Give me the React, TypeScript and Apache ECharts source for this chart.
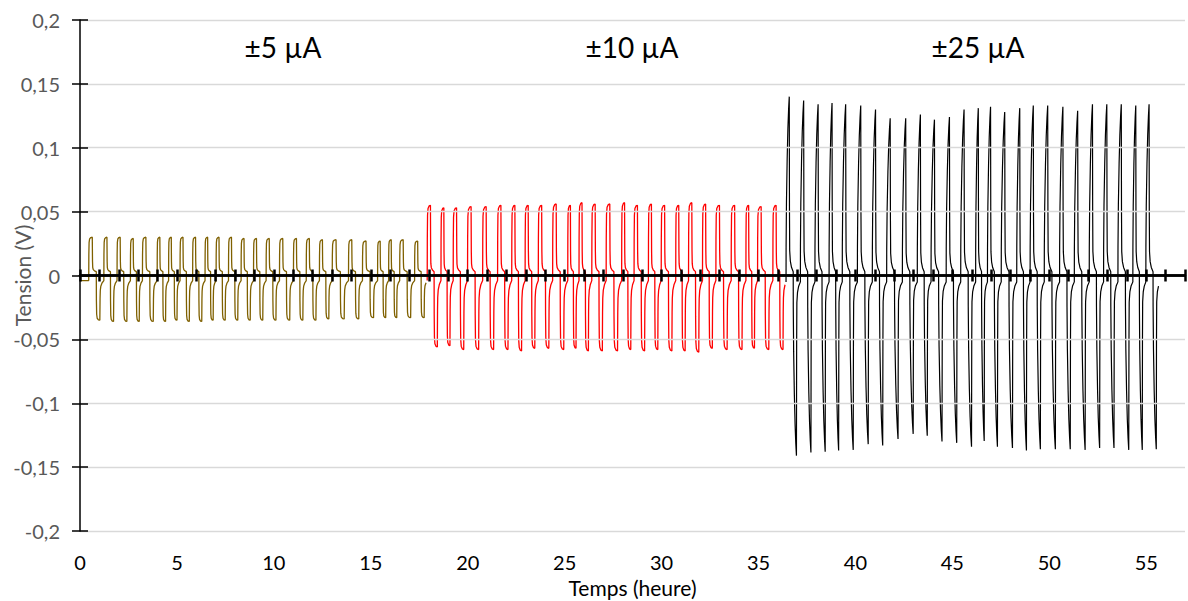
import React, { useEffect, useRef } from "react";
import * as echarts from "echarts";

// Axes
const X_MIN = 0;
const X_MAX = 57;
const X_LABEL_STEP = 5;
const X_TICK_STEP = 1;
const Y_MIN = -0.2;
const Y_MAX = 0.2;
const Y_STEP = 0.05;

// Group labels
const groupLabels = ["±5 µA", "±10 µA", "±25 µA"];

// ±5 µA: cycle start times (h), positive peaks and negative troughs (V)
const goldStarts = [0.45, 1.23, 1.91, 2.6, 3.22, 3.98, 4.57, 5.16, 5.81, 6.45, 7.02, 7.66, 8.31, 8.95, 9.6, 10.29, 11.01, 11.67, 12.35, 13.01, 13.85, 14.57, 15.35, 15.92, 16.49, 17.26];
const goldPeaks = [0.03, 0.03, 0.03, 0.029, 0.03, 0.03, 0.03, 0.03, 0.03, 0.03, 0.03, 0.03, 0.029, 0.029, 0.029, 0.029, 0.029, 0.029, 0.028, 0.028, 0.028, 0.027, 0.027, 0.028, 0.028, 0.027];
const goldTroughs = [-0.035, -0.036, -0.036, -0.036, -0.036, -0.036, -0.035, -0.036, -0.036, -0.035, -0.035, -0.035, -0.035, -0.035, -0.035, -0.035, -0.035, -0.035, -0.034, -0.034, -0.034, -0.033, -0.033, -0.033, -0.033, -0.033];
const goldRest = [0.003, -0.004];
const goldSpan = [0, 17.9];

// ±10 µA
const redStarts = [17.91, 18.62, 19.25, 19.99, 20.77, 21.54, 22.27, 22.96, 23.64, 24.38, 25.16, 25.74, 26.4, 27.14, 27.94, 28.58, 29.32, 29.98, 30.73, 31.39, 32.11, 32.8, 33.59, 34.35, 34.95, 35.74];
const redPeaks = [0.055, 0.053, 0.053, 0.054, 0.054, 0.055, 0.055, 0.055, 0.055, 0.056, 0.055, 0.057, 0.056, 0.056, 0.057, 0.055, 0.056, 0.055, 0.055, 0.057, 0.056, 0.055, 0.055, 0.055, 0.054, 0.055];
const redTroughs = [-0.056, -0.055, -0.058, -0.058, -0.058, -0.058, -0.059, -0.057, -0.057, -0.058, -0.057, -0.059, -0.059, -0.059, -0.058, -0.059, -0.058, -0.059, -0.059, -0.06, -0.057, -0.058, -0.058, -0.057, -0.058, -0.058];
const redRest = [0.003, -0.004];
const redSpan = [17.91, 36.4];

// ±25 µA
const blackStarts = [36.42, 37.16, 37.91, 38.64, 39.32, 40.1, 40.87, 41.61, 42.42, 43.19, 43.9, 44.68, 45.43, 46.2, 46.81, 47.52, 48.32, 49.01, 49.74, 50.53, 51.29, 52.06, 52.8, 53.54, 54.31, 54.98];
const blackPeaks = [0.14, 0.137, 0.134, 0.135, 0.134, 0.133, 0.13, 0.123, 0.123, 0.126, 0.122, 0.124, 0.13, 0.131, 0.132, 0.128, 0.131, 0.133, 0.133, 0.132, 0.129, 0.134, 0.134, 0.134, 0.133, 0.134];
const blackTroughs = [-0.141, -0.1385, -0.138, -0.137, -0.1365, -0.132, -0.133, -0.128, -0.124, -0.1255, -0.13, -0.131, -0.134, -0.1295, -0.134, -0.135, -0.137, -0.136, -0.136, -0.136, -0.1365, -0.135, -0.135, -0.1365, -0.1365, -0.136];
const blackRest = [0.003, -0.005];
const blackSpan = [36.42, 55.65];

// Pulse shapes: [fraction of cycle, fraction of peak above rest]
const flatPulsePos = [[0.008, 0.5], [0.025, 0.85], [0.06, 0.95], [0.14, 0.99], [0.235, 1], [0.25, 0.3], [0.265, 0.12], [0.3, 0.06], [0.38, 0.025], [0.5, 0]];
const flatPulseNeg = [[0.008, 0.5], [0.025, 0.85], [0.06, 0.95], [0.14, 0.99], [0.235, 1], [0.25, 0.45], [0.265, 0.25], [0.3, 0.14], [0.38, 0.06], [0.5, 0]];
const rampPulse = [[0.005, 0.15], [0.03, 0.4], [0.08, 0.65], [0.13, 0.82], [0.18, 0.93], [0.225, 1], [0.24, 0.35], [0.255, 0.12], [0.3, 0.06], [0.38, 0.025], [0.5, 0]];

function buildWave(
  starts: number[],
  peaks: number[],
  troughs: number[],
  rest: number[],
  posShape: number[][],
  negShape: number[][],
  span: number[]
) {
  const pts: number[][] = [];
  const [rp, rn] = rest;
  if (span[0] < starts[0]) pts.push([span[0], rn]);
  const n = starts.length;
  const avg = (starts[n - 1] - starts[0]) / (n - 1);
  starts.forEach((t0, i) => {
    const T = i < n - 1 ? starts[i + 1] - t0 : avg;
    pts.push([t0, rn]);
    posShape.forEach(([ph, f]) => pts.push([t0 + ph * T, rp + f * (peaks[i] - rp)]));
    negShape.forEach(([ph, f]) => pts.push([t0 + (0.5 + ph) * T, rn + f * (troughs[i] - rn)]));
  });
  return pts.filter((p) => p[0] <= span[1]);
}

const FONT = "Lato, 'Noto Sans', sans-serif";

export default function App() {
  const ref = useRef<HTMLDivElement>(null);
  useEffect(() => {
    document.body.style.margin = "0";
    if (!ref.current) return;
    const chart = echarts.init(ref.current, undefined, { renderer: "svg" });
    const fmt = (v: number) => String(Math.round(v * 100) / 100).replace(".", ",");
    const zeroAxisBase = {
      type: "value",
      min: X_MIN,
      max: X_MAX,
      interval: X_TICK_STEP,
      z: 5,
      axisLine: { show: true, onZero: true, lineStyle: { color: "#000", width: 2.5 } },
      axisTick: { show: true, length: 6, lineStyle: { color: "#000", width: 2.5 } },
      axisLabel: { show: false },
      splitLine: { show: false },
    };
    chart.setOption({
      animation: false,
      grid: { left: 80, right: 3, top: 20, bottom: 70, containLabel: false, outerBoundsMode: "none" },
      xAxis: [
        {
          type: "value",
          min: X_MIN,
          max: X_MAX,
          interval: X_LABEL_STEP,
          position: "bottom",
          axisLine: { show: false, onZero: false },
          axisTick: { show: false },
          splitLine: { show: false },
          axisLabel: { color: "#000", fontSize: 20, lineHeight: 22, fontFamily: FONT, margin: 20, showMaxLabel: false },
          name: "Temps (heure)",
          nameLocation: "middle",
          nameGap: 45,
          nameMoveOverlap: false,
          nameTextStyle: { color: "#000", fontSize: 21, lineHeight: 22, fontFamily: FONT },
        },
        { ...zeroAxisBase, position: "bottom" },
        { ...zeroAxisBase, position: "top" },
      ],
      yAxis: [
        {
          type: "value",
          min: Y_MIN,
          max: Y_MAX,
          interval: Y_STEP,
          position: "left",
          z: 5,
          axisLine: { show: true, onZero: false, lineStyle: { color: "#000", width: 1.5 } },
          axisTick: { show: true, length: 8, lineStyle: { color: "#000", width: 1.5 } },
          axisLabel: { color: "#595959", fontSize: 20, fontFamily: FONT, margin: 20, formatter: fmt },
          splitLine: { show: true, lineStyle: { color: "#d9d9d9", width: 1.3 } },
          name: "Tension (V)",
          nameLocation: "middle",
          nameGap: 47,
          nameRotate: 90,
          nameMoveOverlap: false,
          nameTextStyle: { color: "#595959", fontSize: 21, fontFamily: FONT },
        },
        {
          type: "value",
          min: Y_MIN,
          max: Y_MAX,
          interval: Y_STEP,
          position: "left",
          z: 5,
          axisLine: { show: false, onZero: false },
          axisTick: { show: true, inside: true, length: 8, lineStyle: { color: "#000", width: 1.5 } },
          axisLabel: { show: false },
          splitLine: { show: false },
        },
      ],
      graphic: [
        { type: "text", x: 283, y: 47, style: { text: groupLabels[0], font: `28px ${FONT}`, fill: "#000", textAlign: "center", textVerticalAlign: "middle" } },
        { type: "text", x: 632, y: 47, style: { text: groupLabels[1], font: `28px ${FONT}`, fill: "#000", textAlign: "center", textVerticalAlign: "middle" } },
        { type: "text", x: 978, y: 47, style: { text: groupLabels[2], font: `28px ${FONT}`, fill: "#000", textAlign: "center", textVerticalAlign: "middle" } },
      ],
      series: [
        {
          name: groupLabels[0],
          type: "line",
          xAxisIndex: 0,
          yAxisIndex: 0,
          showSymbol: false,
          lineStyle: { color: "#7F6000", width: 1.3 },
          data: buildWave(goldStarts, goldPeaks, goldTroughs, goldRest, flatPulsePos, flatPulseNeg, goldSpan),
        },
        {
          name: groupLabels[1],
          type: "line",
          xAxisIndex: 0,
          yAxisIndex: 0,
          showSymbol: false,
          lineStyle: { color: "#FF0000", width: 1.3 },
          data: buildWave(redStarts, redPeaks, redTroughs, redRest, flatPulsePos, flatPulseNeg, redSpan),
        },
        {
          name: groupLabels[2],
          type: "line",
          xAxisIndex: 0,
          yAxisIndex: 0,
          showSymbol: false,
          lineStyle: { color: "#000000", width: 1.2 },
          data: buildWave(blackStarts, blackPeaks, blackTroughs, blackRest, rampPulse, rampPulse, blackSpan),
        },
      ],
    });
    return () => chart.dispose();
  }, []);
  return <div ref={ref} style={{ width: 1188, height: 601 }} />;
}
